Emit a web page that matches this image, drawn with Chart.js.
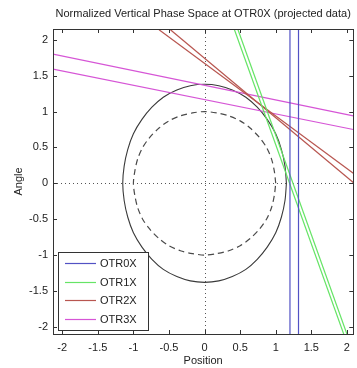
<!DOCTYPE html>
<html>
<head>
<meta charset="utf-8">
<script src="https://cdn.jsdelivr.net/npm/chart.js@4.4.0/dist/chart.umd.min.js"></script>
<style>
  html, body { margin: 0; padding: 0; background: #fff; }
  #wrap { width: 357px; height: 368px; }
</style>
</head>
<body>
<div id="wrap"><canvas id="phaseGraph"></canvas></div>
<script>
var titulo = 'Normalized Vertical Phase Space at OTR0X (projected data)';
var xTicks = [-2, -1.5, -1, -0.5, 0, 0.5, 1, 1.5, 2];
var yTicks = [-2, -1.5, -1, -0.5, 0, 0.5, 1, 1.5, 2];
var xLimites = [-2.13, 2.09];
var yLimites = [-2.1, 2.15];

// elipse del haz (solida) y circulo unitario (discontinuo)
var elipseX = [1.15, 1.13, 1.08, 1.00, 0.88, 0.74, 0.58, 0.39, 0.20, 0, -0.20, -0.39, -0.58, -0.74, -0.88, -1.00, -1.08, -1.13, -1.15, -1.13, -1.08, -1.00, -0.88, -0.74, -0.58, -0.39, -0.20, 0, 0.20, 0.39, 0.58, 0.74, 0.88, 1.00, 1.08, 1.13, 1.15];
var elipseY = [0, 0.24, 0.47, 0.69, 0.89, 1.06, 1.20, 1.30, 1.36, 1.38, 1.36, 1.30, 1.20, 1.06, 0.89, 0.69, 0.47, 0.24, 0, -0.24, -0.47, -0.69, -0.89, -1.06, -1.20, -1.30, -1.36, -1.38, -1.36, -1.30, -1.20, -1.06, -0.89, -0.69, -0.47, -0.24, 0];
var circuloX = [1, 0.98, 0.94, 0.87, 0.77, 0.64, 0.5, 0.34, 0.17, 0, -0.17, -0.34, -0.5, -0.64, -0.77, -0.87, -0.94, -0.98, -1, -0.98, -0.94, -0.87, -0.77, -0.64, -0.5, -0.34, -0.17, 0, 0.17, 0.34, 0.5, 0.64, 0.77, 0.87, 0.94, 0.98, 1];
var circuloY = [0, 0.17, 0.34, 0.5, 0.64, 0.77, 0.87, 0.94, 0.98, 1, 0.98, 0.94, 0.87, 0.77, 0.64, 0.5, 0.34, 0.17, 0, -0.17, -0.34, -0.5, -0.64, -0.77, -0.87, -0.94, -0.98, -1, -0.98, -0.94, -0.87, -0.77, -0.64, -0.5, -0.34, -0.17, 0];

// cada pantalla: dos rectas (extremos en coordenadas de datos)
var pantallas = ['OTR0X', 'OTR1X', 'OTR2X', 'OTR3X'];
var colores = ['#5252c4', '#66e466', '#b85650', '#d655d6'];
var rectaA = [
    [[1.20, 2.15], [1.20, -2.1]],
    [[0.42, 2.14], [1.955, -2.10]],
    [[-0.64, 2.14], [2.09, 0.14]],
    [[-2.13, 1.80], [2.09, 0.94]]
];
var rectaB = [
    [[1.32, 2.15], [1.32, -2.1]],
    [[0.47, 2.14], [2.0, -2.10]],
    [[-0.48, 2.14], [2.09, 0.01]],
    [[-2.13, 1.59], [2.09, 0.75]]
];

var fuente = '"Liberation Sans", Arial, Helvetica, sans-serif';

function puntos(xs, ys) {
    let res = [];
    xs.forEach((x, i) => res.push({x: x, y: ys[i]}));
    return res;
}

let datasets = [];
pantallas.forEach((nombre, i) => {
    [rectaA[i], rectaB[i]].forEach(r => {
        datasets.push({
            label: nombre,
            data: r.map(p => ({x: p[0], y: p[1]})),
            showLine: true,
            borderColor: colores[i],
            borderWidth: 1.2,
            pointRadius: 0,
            fill: false
        });
    });
});
datasets.push({
    label: 'elipse',
    data: puntos(elipseX, elipseY),
    showLine: true,
    borderColor: '#3a3a3a',
    borderWidth: 1.1,
    pointRadius: 0,
    tension: 0.3,
    fill: false
});
datasets.push({
    label: 'circulo',
    data: puntos(circuloX, circuloY),
    showLine: true,
    borderColor: '#4a4a4a',
    borderWidth: 1.2,
    borderDash: [6, 4],
    pointRadius: 0,
    tension: 0.3,
    fill: false
});

let marco = {
    id: 'marco',
    beforeDatasetsDraw(chart) {
        let ctx = chart.ctx, a = chart.chartArea;
        let x0 = chart.scales.x.getPixelForValue(0);
        let y0 = chart.scales.y.getPixelForValue(0);
        ctx.save();
        ctx.strokeStyle = '#555';
        ctx.lineWidth = 1;
        ctx.setLineDash([1, 3]);
        ctx.beginPath();
        ctx.moveTo(Math.round(x0) + 0.5, a.top);
        ctx.lineTo(Math.round(x0) + 0.5, a.bottom);
        ctx.moveTo(a.left, Math.round(y0) + 0.5);
        ctx.lineTo(a.right, Math.round(y0) + 0.5);
        ctx.stroke();
        ctx.restore();
    },
    afterDraw(chart) {
        let ctx = chart.ctx, a = chart.chartArea;
        let sx = chart.scales.x, sy = chart.scales.y;
        ctx.save();
        ctx.strokeStyle = '#333';
        ctx.lineWidth = 1;
        ctx.strokeRect(Math.round(a.left) + 0.5, Math.round(a.top) + 0.5, Math.round(a.right - a.left), Math.round(a.bottom - a.top));
        ctx.beginPath();
        xTicks.forEach(v => {
            let px = Math.round(sx.getPixelForValue(v)) + 0.5;
            ctx.moveTo(px, a.bottom); ctx.lineTo(px, a.bottom - 4);
            ctx.moveTo(px, a.top); ctx.lineTo(px, a.top + 4);
        });
        yTicks.forEach(v => {
            let py = Math.round(sy.getPixelForValue(v)) + 0.5;
            ctx.moveTo(a.left, py); ctx.lineTo(a.left + 4, py);
            ctx.moveTo(a.right, py); ctx.lineTo(a.right - 4, py);
        });
        ctx.stroke();

        // titulo
        ctx.fillStyle = '#222';
        ctx.font = '11px ' + fuente;
        ctx.textAlign = 'center';
        ctx.textBaseline = 'middle';
        ctx.fillText(titulo, (a.left + a.right) / 2, 14);

        // leyenda
        let bx = a.left + 5, by = a.bottom - 82, bw = 90, bh = 78;
        ctx.fillStyle = '#fff';
        ctx.fillRect(bx, by, bw, bh);
        ctx.strokeStyle = '#333';
        ctx.strokeRect(Math.round(bx) + 0.5, Math.round(by) + 0.5, bw, bh);
        ctx.textAlign = 'left';
        pantallas.forEach((nombre, i) => {
            let ly = Math.round(by + 11 + i * 18.7) + 0.5;
            ctx.strokeStyle = colores[i];
            ctx.lineWidth = 1.2;
            ctx.beginPath();
            ctx.moveTo(bx + 7, ly);
            ctx.lineTo(bx + 38, ly);
            ctx.stroke();
            ctx.fillStyle = '#222';
            ctx.fillText(nombre, bx + 42, ly);
        });
        ctx.restore();
    }
};

let grafica = new Chart(document.getElementById('phaseGraph').getContext('2d'), {
    type: 'scatter',
    data: { datasets: datasets },
    options: {
        responsive: true,
        maintainAspectRatio: false,
        animation: false,
        layout: { padding: { top: 29, right: 2, left: 0, bottom: 0 } },
        plugins: {
            legend: { display: false },
            tooltip: { enabled: false },
            title: { display: false }
        },
        scales: {
            x: {
                type: 'linear',
                min: xLimites[0],
                max: xLimites[1],
                afterBuildTicks: s => { s.ticks = xTicks.map(v => ({value: v})); },
                afterFit: s => { s.height = 34; },
                grid: { display: false, drawTicks: false },
                border: { display: false },
                ticks: { color: '#222', font: { family: fuente, size: 11 }, padding: 7, maxRotation: 0, autoSkip: false, callback: v => String(v) },
                title: { display: true, text: 'Position', color: '#222', font: { family: fuente, size: 11 }, padding: { top: 3, bottom: 0 } }
            },
            y: {
                type: 'linear',
                min: yLimites[0],
                max: yLimites[1],
                afterBuildTicks: s => { s.ticks = yTicks.map(v => ({value: v})); },
                afterFit: s => { s.width = 53; },
                grid: { display: false, drawTicks: false },
                border: { display: false },
                ticks: { color: '#222', font: { family: fuente, size: 11 }, padding: 5, autoSkip: false, callback: v => String(v) },
                title: { display: true, text: 'Angle', color: '#222', font: { family: fuente, size: 11 }, padding: { top: 12, bottom: 0 } }
            }
        }
    },
    plugins: [marco]
});
</script>
</body>
</html>
